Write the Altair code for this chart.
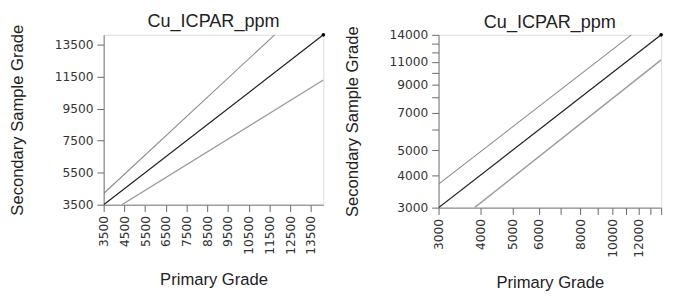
import altair as alt
import pandas as pd

# ---- data ----
SERIES = ["upper", "center", "lower"]

# left panel (linear axes)
LEFT_X0 = [3500, 3500, 4375]
LEFT_Y0 = [4200, 3500, 3500]
LEFT_X1 = [11750, 14100, 14100]
LEFT_Y1 = [14100, 14100, 11280]
LEFT_DOMAIN = [3500, 14100]
LEFT_X_TICKS = [3500, 4500, 5500, 6500, 7500, 8500, 9500, 10500, 11500, 12500, 13500]
LEFT_Y_TICKS = [3500, 5500, 7500, 9500, 11500, 13500]

# right panel (log axes)
RIGHT_X0 = [3000, 3000, 3850]
RIGHT_Y0 = [3700, 3000, 3000]
RIGHT_X1 = [11400, 14000, 14000]
RIGHT_Y1 = [14000, 14000, 11200]
RIGHT_DOMAIN = [3000, 14000]
RIGHT_TICKS = [3000, 4000, 5000, 6000, 7000, 8000, 9000, 10000, 11000, 12000, 13000, 14000]
RIGHT_X_LABELS = [3000, 4000, 5000, 6000, 8000, 10000, 12000]
RIGHT_Y_LABELS = [3000, 4000, 5000, 7000, 9000, 11000, 14000]

TITLE = "Cu_ICPAR_ppm"
X_TITLE = "Primary Grade"
Y_TITLE = "Secondary Sample Grade"

FONT = "Liberation Sans"
LABEL_FONT = "DejaVu Sans"


def make_df(x0, y0, x1, y1):
    rows = []
    for s, a, b, c, d in zip(SERIES, x0, y0, x1, y1):
        rows.append({"series": s, "pt": 0, "x": a, "y": b})
        rows.append({"series": s, "pt": 1, "x": c, "y": d})
    return pd.DataFrame(rows)


color_scale = alt.Scale(domain=SERIES, range=["#8a8a8a", "#1e1e1e", "#9a9a9a"])
width_scale = alt.Scale(domain=SERIES, range=[1.1, 1.4, 1.1])


def axis_kw(values, label_expr=None):
    kw = dict(
        values=values,
        format="d",
        labelFont=LABEL_FONT,
        labelFontSize=12.5,
        labelColor="#333",
        titleFont=FONT,
        titleFontSize=17,
        titleFontWeight="normal",
        titleColor="#222",
        tickColor="#666",
        tickSize=7,
        labelPadding=4,
        domainColor="#777",
        grid=False,
        labelOverlap=False,
        labelFlush=False,
    )
    if label_expr:
        kw["labelExpr"] = label_expr
    return kw


def panel(df, domain, scale_type, xvals, yvals, xexpr, yexpr, w, h, corner):
    xaxis = alt.Axis(labelAngle=-90, titlePadding=18, **axis_kw(xvals, xexpr))
    yaxis = alt.Axis(titlePadding=28, **axis_kw(yvals, yexpr))
    if scale_type == "linear":
        xs = alt.Scale(type="linear", domain=domain, nice=False, zero=False)
        ys = alt.Scale(type="linear", domain=domain, nice=False, zero=False)
    else:
        xs = alt.Scale(type="log", domain=domain, nice=False)
        ys = alt.Scale(type="log", domain=domain, nice=False)
    lines = alt.Chart(df).mark_line(clip=True).encode(
        x=alt.X("x:Q", scale=xs, axis=xaxis, title=X_TITLE),
        y=alt.Y("y:Q", scale=ys, axis=yaxis, title=Y_TITLE),
        detail="series:N",
        color=alt.Color("series:N", scale=color_scale, legend=None),
        strokeWidth=alt.StrokeWidth("series:N", scale=width_scale, legend=None),
        order="pt:Q",
    )
    cdf = pd.DataFrame({"x": [corner], "y": [corner]})
    dot = alt.Chart(cdf).mark_point(filled=True, color="black", size=14, opacity=1).encode(
        x=alt.X("x:Q", scale=xs, axis=xaxis, title=X_TITLE),
        y=alt.Y("y:Q", scale=ys, axis=yaxis, title=Y_TITLE),
    )
    return (lines + dot).properties(
        width=w,
        height=h,
        title=alt.TitleParams(TITLE, font=FONT, fontSize=18.5, fontWeight="normal", color="#222", offset=-6),
    )


left_df = make_df(LEFT_X0, LEFT_Y0, LEFT_X1, LEFT_Y1)
right_df = make_df(RIGHT_X0, RIGHT_Y0, RIGHT_X1, RIGHT_Y1)

right_x_expr = "indexof(" + str(RIGHT_X_LABELS) + ", datum.value) >= 0 ? format(datum.value, 'd') : ''"
right_y_expr = "indexof(" + str(RIGHT_Y_LABELS) + ", datum.value) >= 0 ? format(datum.value, 'd') : ''"

left = panel(left_df, LEFT_DOMAIN, "linear", LEFT_X_TICKS, LEFT_Y_TICKS, None, None, 225, 174, LEFT_DOMAIN[1])
right = panel(right_df, RIGHT_DOMAIN, "log", RIGHT_TICKS, RIGHT_TICKS, right_x_expr, right_y_expr, 228, 177, RIGHT_DOMAIN[1])

chart = (
    alt.hconcat(left, right, spacing=17)
    .properties(padding=0)
    .configure_view(stroke="#777", strokeWidth=1)
    .configure(background="white")
)

chart.save("out.html", embed_options={"renderer": "svg", "actions": False})
